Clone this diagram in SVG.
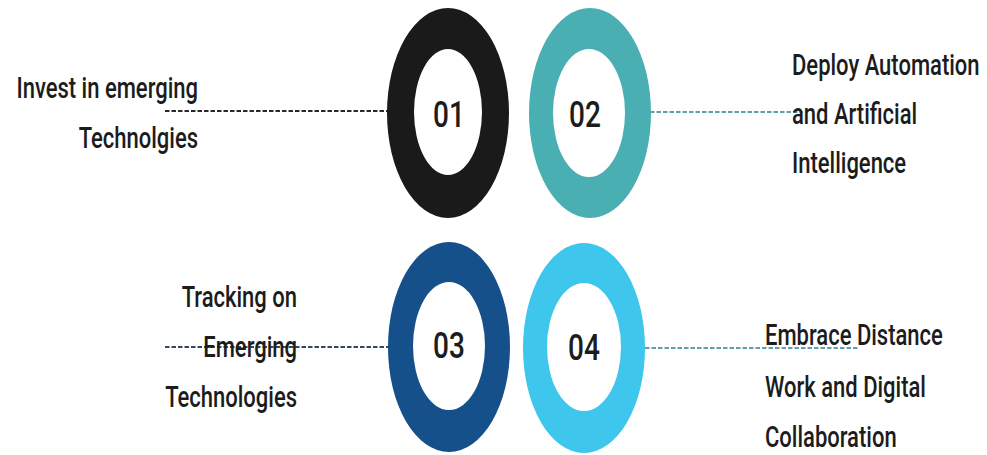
<svg xmlns="http://www.w3.org/2000/svg" width="987" height="455" viewBox="0 0 987 455">
<style>
.lbl{font-family:Roboto,"Liberation Sans",sans-serif;font-size:22px;font-weight:500;fill:#1c1c1c}
.num{font-family:Roboto,"Liberation Sans",sans-serif;font-size:28px;font-weight:500;fill:#1c1c1c;text-anchor:middle}
.end{text-anchor:end}
.dash{fill:none;stroke-width:2.2;stroke-dasharray:4.5 2}
</style>
<rect width="987" height="455" fill="#ffffff"/>
<g id="connectors">
<line class="dash" x1="165" y1="111" x2="389" y2="111" stroke="#2a2a2a"/>
<line class="dash" x1="650" y1="112" x2="803" y2="112" stroke="#5f9fa6"/>
<line class="dash" x1="165" y1="347" x2="390" y2="347" stroke="#34495e"/>
<line class="dash" x1="645" y1="348" x2="858" y2="348" stroke="#5f9fb5"/>
</g>
<g id="node01">
<path fill="#1a1a1a" fill-rule="evenodd" d="M387,113 a61,105 0 1,0 122,0 a61,105 0 1,0 -122,0 Z M414,112 a34,63 0 1,0 68,0 a34,63 0 1,0 -68,0 Z"/>
<g transform="translate(449,127) scale(1,1.35)"><text class="num">01</text></g>
<g transform="translate(198,98) scale(1,1.38)"><text class="lbl end">Invest in emerging</text></g>
<g transform="translate(198,148) scale(1,1.38)"><text class="lbl end">Technolgies</text></g>
</g>
<g id="node02">
<path fill="#4aafb2" fill-rule="evenodd" d="M529,113 a61,105 0 1,0 122,0 a61,105 0 1,0 -122,0 Z M553,113 a36,64 0 1,0 72,0 a36,64 0 1,0 -72,0 Z"/>
<g transform="translate(585,127) scale(1,1.35)"><text class="num">02</text></g>
<g transform="translate(792,75) scale(1,1.38)"><text class="lbl">Deploy Automation</text></g>
<g transform="translate(792,124) scale(1,1.38)"><text class="lbl">and Artificial</text></g>
<g transform="translate(792,173) scale(1,1.38)"><text class="lbl">Intelligence</text></g>
</g>
<g id="node03">
<path fill="#15508a" fill-rule="evenodd" d="M388,347 a61,105 0 1,0 122,0 a61,105 0 1,0 -122,0 Z M413,346 a36,64 0 1,0 72,0 a36,64 0 1,0 -72,0 Z"/>
<g transform="translate(449,358) scale(1,1.35)"><text class="num">03</text></g>
<g transform="translate(297,307) scale(1,1.38)"><text class="lbl end">Tracking on</text></g>
<g transform="translate(297,357) scale(1,1.38)"><text class="lbl end">Emerging</text></g>
<g transform="translate(297,407) scale(1,1.38)"><text class="lbl end">Technologies</text></g>
</g>
<g id="node04">
<path fill="#3ec6ec" fill-rule="evenodd" d="M523,348 a61,105 0 1,0 122,0 a61,105 0 1,0 -122,0 Z M547,347 a37,64 0 1,0 74,0 a37,64 0 1,0 -74,0 Z"/>
<g transform="translate(584,360) scale(1,1.35)"><text class="num">04</text></g>
<g transform="translate(765,345) scale(1,1.38)"><text class="lbl">Embrace Distance</text></g>
<g transform="translate(765,397) scale(1,1.38)"><text class="lbl">Work and Digital</text></g>
<g transform="translate(765,447) scale(1,1.38)"><text class="lbl">Collaboration</text></g>
</g>
</svg>
